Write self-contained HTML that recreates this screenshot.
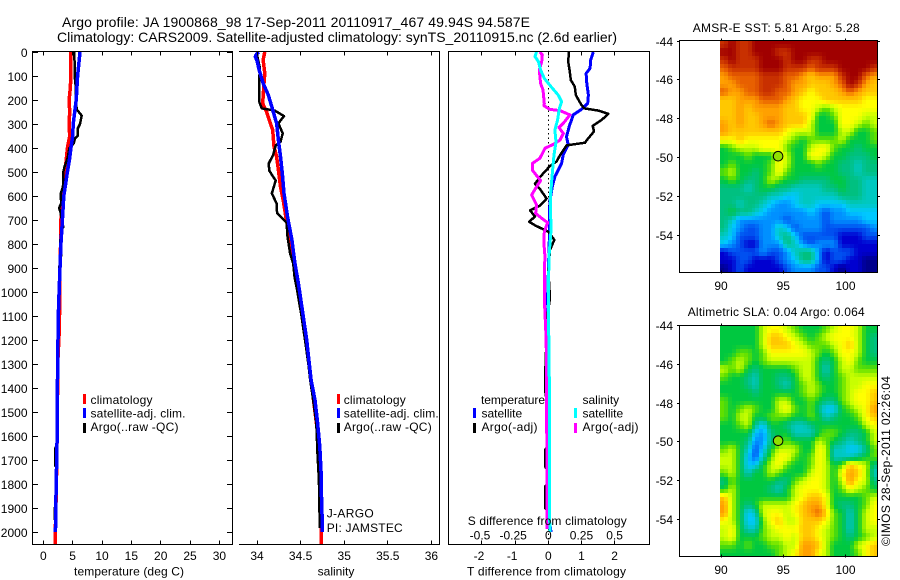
<!DOCTYPE html>
<html lang="en">
<head>
<meta charset="utf-8">
<title>Argo profile</title>
<style>
html,body{margin:0;padding:0;background:#fff;width:900px;height:580px;overflow:hidden}
svg{display:block}
text{font-family:"Liberation Sans",sans-serif;font-size:12px;fill:#000}
</style>
</head>
<body>
<svg id="fig" width="900" height="580" viewBox="0 0 900 580" xmlns="http://www.w3.org/2000/svg">
<rect width="900" height="580" fill="#fff"/>
<text x="62" y="27" style="font-size:14px" textLength="468">Argo profile: JA 1900868_98 17-Sep-2011 20110917_467 49.94S 94.587E</text>
<text x="57" y="42" style="font-size:14px" textLength="560">Climatology: CARS2009. Satellite-adjusted climatology: synTS_20110915.nc (2.6d earlier)</text>

<g id="layer-maps"></g>
<g id="layer-p1"></g>
<g id="layer-p2"></g>
<g id="layer-p3"></g>

<g>
<rect x="83" y="394" width="3" height="10" fill="#ff0000"/>
<rect x="83" y="408" width="3" height="10" fill="#0000ff"/>
<rect x="83" y="423" width="3" height="10" fill="#000"/>
<text x="90.5" y="404" textLength="62">climatology</text>
<text x="90.5" y="417.5" textLength="95">satellite-adj. clim.</text>
<text x="90.5" y="431" textLength="88">Argo(..raw -QC)</text>
</g>
<g>
<rect x="337" y="394" width="3" height="10" fill="#ff0000"/>
<rect x="337" y="408" width="3" height="10" fill="#0000ff"/>
<rect x="337" y="423" width="3" height="10" fill="#000"/>
<text x="343.7" y="404" textLength="62">climatology</text>
<text x="343.7" y="417.5" textLength="95">satellite-adj. clim.</text>
<text x="343.7" y="431" textLength="88">Argo(..raw -QC)</text>
<text x="326.7" y="517.5" textLength="47">J-ARGO</text>
<text x="326.7" y="532" textLength="76">PI: JAMSTEC</text>
</g>
<g>
<text x="481" y="404" textLength="64">temperature</text>
<rect x="473" y="408" width="3" height="10" fill="#0000ff"/>
<text x="481.5" y="417.5">satellite</text>
<rect x="473" y="423" width="3" height="10" fill="#000"/>
<text x="481.5" y="431" textLength="56">Argo(-adj)</text>
<text x="582.5" y="404">salinity</text>
<rect x="574" y="408" width="3" height="10" fill="#00ffff"/>
<text x="582.5" y="417.5">satellite</text>
<rect x="574" y="423" width="3" height="10" fill="#ff00ff"/>
<text x="582.5" y="431" textLength="56">Argo(-adj)</text>
<text x="467.7" y="525" textLength="159">S difference from climatology</text>
</g>

<text x="74" y="575.5" textLength="110">temperature (deg C)</text>
<text x="336" y="575.5" text-anchor="middle">salinity</text>
<text x="467" y="575.5" textLength="159">T difference from climatology</text>

<text x="692.7" y="32" textLength="167">AMSR-E SST: 5.81 Argo: 5.28</text>
<text x="687.7" y="316" textLength="177">Altimetric SLA: 0.04 Argo: 0.064</text>
<text transform="translate(890,546) rotate(-90)" textLength="170">©IMOS 28-Sep-2011 02:26:04</text>
</svg>

<script>
// ---- axis tick data ----
const depthTicks = [0,100,200,300,400,500,600,700,800,900,1000,1100,1200,1300,1400,1500,1600,1700,1800,1900,2000];
const tempTicks = [0,5,10,15,20,25,30];
const salTicks = [34,34.5,35,35.5,36];
const salTickLabels = ['34','34.5','35','35.5','36'];
const tDiffTicks = [-2,-1,0,1,2];
const sDiffTicks = [-0.5,-0.25,0,0.25,0.5];
const sDiffTickLabels = ['-0.5','-0.25','0','0.25','0.5'];
const lonTicks = [90,95,100];
const latTicks = [-44,-46,-48,-50,-52,-54];

// ---- temperature profile ----
const tempClimDepth = [0,100,150,200,250,300,350,400,450,500,600,700,800,900,1000,1150,1300,1500,1700,1900,2000,2050];
const tempClimValue = [4.7,4.7,4.6,4.4,4.5,4.4,4.5,4.1,3.9,3.7,3.25,3.0,2.95,2.85,2.8,2.75,2.45,2.4,2.3,2.15,2.05,2.05];
const tempSatDepth = [0,100,200,300,350,400,450,500,550,600,700,800,900,1000,1100,1200,1300,1400,1500,1600,1700,1725,1750,1900,1950,2000];
const tempSatValue = [6.25,5.85,5.6,5.1,5.0,4.7,4.45,4.1,3.8,3.5,3.25,3.0,2.85,2.7,2.55,2.5,2.45,2.4,2.4,2.35,2.3,2.3,2.2,2.15,2.15,2.05];
const tempArgoDepth = [0,100,140,200,240,265,300,320,350,360,380,390,400,440,480,500,550,570,590,630,650,670,700,730,740,800,840,900,1000,1200,1400,1640,1650,1725,1730,1890,1900,1950];
const tempArgoValue = [5.3,5.35,5.5,5.5,5.7,6.55,6.25,5.85,5.85,5.4,5.2,4.85,4.45,4.15,3.6,3.4,3.4,3.25,2.95,3.05,2.7,2.95,3.15,3.4,3.1,2.85,3.1,2.7,2.7,2.45,2.35,2.3,2.05,2.05,2.25,2.2,1.9,1.9];

// ---- salinity profile ----
const salClimDepth = [0,33,89,130,214,249,283,325,394,436,492,561,617,686,769,900,1000,1367,1645,1854,2050];
const salClimValue = [34.09,34.07,34.09,34.08,34.065,34.11,34.14,34.18,34.195,34.225,34.245,34.27,34.30,34.33,34.37,34.44,34.49,34.62,34.715,34.735,34.74];
const salSatDepth = [0,12,19,36,75,130,179,235,297,367,436,506,589,686,783,880,964,1026,1100,1200,1300,1367,1450,1546,1645,1754,1854,1979,2000];
const salSatValue = [34.02,33.99,33.98,34.0,34.025,34.07,34.13,34.175,34.225,34.245,34.27,34.29,34.31,34.35,34.40,34.435,34.475,34.5,34.53,34.57,34.60,34.62,34.665,34.695,34.72,34.735,34.74,34.75,34.75];
const salArgoDepth = [0,12,61,207,235,244,267,297,339,374,389,429,464,494,536,589,631,672,711,769,839,881,936,992,1100,1200,1300,1367,1450,1546,1685,1782,1983];
const salArgoValue = [34.015,34.0,34.03,34.025,34.055,34.205,34.31,34.245,34.295,34.27,34.215,34.185,34.135,34.14,34.215,34.17,34.225,34.23,34.34,34.35,34.38,34.415,34.43,34.46,34.51,34.55,34.59,34.61,34.645,34.68,34.695,34.71,34.72];

// ---- differences from climatology ----
const dtSatDepth = [0,33,68,89,131,179,214,239,262,311,353,387,429,464,519,561,617,686,783,922,1026,1200,1500,1800,1950,2000];
const dtSatValue = [1.36,1.28,1.26,1.14,1.16,1.21,1.19,1.0,.75,.63,.55,.60,.45,.40,.20,.12,.05,.03,.03,0,-.02,.01,.02,.03,.03,.08];
const dtArgoDepth = [0,40,82,117,144,179,221,235,244,258,283,308,331,367,378,389,431,456,475,521,549,571,611,640,660,686,707,722,749,783,825,908,1026,1100,1367,1408,1450,1650,1658,1728,1735,1805,1811,1901,1905,1985];
const dtArgoValue = [.62,.60,.65,.68,.80,.83,1.0,1.09,1.51,1.81,1.61,1.34,1.38,1.16,1.11,.55,.35,.25,.05,-.25,-.40,-.25,-.05,-.25,-.55,-.40,-.58,-.40,0,.18,.05,0,.05,-.03,-.10,-.10,-.05,-.05,-.10,-.10,-.05,-.05,-.10,-.10,-.05,-.05];
const dsSatDepth = [0,19,40,75,110,144,179,207,236,283,325,374,429,506,589,686,742,853,1026,1400,1900,2000];
const dsSatValue = [-.088,-.10,-.075,-.058,-.03,.02,.075,.10,.083,.07,.05,.058,.043,.03,.018,.018,.02,.005,0,.008,.008,.0125];
const dsArgoDepth = [0,12,40,75,131,158,214,224,239,244,262,297,314,339,367,385,401,443,464,494,536,568,596,637,672,693,711,749,797,853,908,1026,1200,1500,1987];
const dsArgoValue = [-.063,-.045,-.05,-.068,-.058,-.04,-.03,-.033,.013,.088,.163,.113,.08,.113,.088,.038,-.025,-.063,-.12,-.118,-.058,-.096,-.126,-.088,-.096,-.05,-.005,-.03,-.033,-.025,-.03,-.03,-.016,-.012,-.01];

// ---- map colour levels (0 = coldest/lowest ... 15 = warmest/highest) ----
const sstGrid = [
[14,15,14,14,15,15,15,15,15,15,15,15,15,15,15,15,15,15,15,15],
[15,15,14,14,15,15,15,14,14,15,15,15,15,15,15,15,15,15,15,15],
[14,15,14,14,14,15,15,15,14,15,15,14,14,15,15,15,15,15,15,15],
[13,14,14,14,14,15,15,15,14,14,14,13,14,14,14,15,15,15,15,14],
[12,13,13,13,13,14,14,14,13,13,12,11,12,12,12,14,15,15,13,12],
[12,12,13,13,13,14,14,14,13,12,12,11,11,11,12,13,15,14,12,11],
[13,12,12,13,13,14,14,13,13,12,11,10,11,11,11,12,13,12,11,11],
[11,11,12,12,12,13,13,13,12,11,10,10,10,11,11,11,11,11,10,10],
[11,11,12,11,12,12,12,12,11,11,10,10,9,8,9,10,10,10,10,10],
[11,11,12,11,11,12,12,12,11,11,11,10,7,7,8,10,10,10,9,9],
[12,11,12,11,11,12,13,12,11,11,11,9,7,7,7,10,10,9,8,9],
[12,11,11,11,11,11,11,11,10,9,9,9,7,7,7,9,9,7,7,8],
[10,10,11,10,10,10,10,10,9,8,7,8,8,8,8,9,7,7,7,8],
[7,8,9,9,9,10,10,10,8,7,7,9,10,10,8,7,7,6,7,7],
[7,7,7,8,7,7,7,10,9,7,7,10,10,9,7,7,6,6,6,7],
[7,8,7,7,7,7,8,10,9,7,7,7,8,7,7,6,6,5,6,6],
[8,9,7,7,6,7,8,10,8,7,7,7,7,7,7,6,6,5,6,6],
[7,8,7,6,6,7,9,8,7,7,6,6,6,6,7,7,6,6,5,5],
[6,6,6,5,6,7,7,6,6,5,5,5,5,6,6,7,6,6,5,5],
[6,6,6,6,6,6,5,5,4,4,5,5,5,5,5,6,6,6,5,5],
[6,6,5,6,6,5,4,3,3,4,5,5,4,4,4,4,5,5,5,5],
[6,7,6,6,5,4,3,3,3,3,3,4,3,2,3,3,4,4,4,4],
[6,5,3,3,3,3,3,3,2,3,3,3,3,2,3,3,3,3,4,4],
[6,4,3,2,2,3,3,5,4,2,3,3,3,2,2,2,2,2,2,3],
[5,4,2,2,2,3,3,5,6,4,2,2,2,2,2,1,1,1,2,2],
[4,3,2,1,1,3,3,3,6,5,3,2,3,3,3,1,1,1,1,1],
[1,2,2,2,2,3,2,2,3,5,6,6,3,1,2,2,2,1,1,1],
[1,1,2,2,1,1,1,2,3,4,6,6,3,1,2,2,1,1,0,0],
[0,1,2,1,1,1,1,1,2,3,3,3,2,2,1,0,1,1,0,0]
];
const slaGrid = [
[7,7,7,7,7,9,10,10,9,8,7,7,7,8,9,10,10,9,7,7],
[7,7,7,7,7,9,11,11,10,9,8,7,8,9,10,10,10,9,7,6],
[7,7,7,7,7,9,11,11,11,10,9,8,8,8,9,10,11,9,7,6],
[7,7,8,8,7,8,10,10,10,10,10,9,8,7,8,10,10,9,7,6],
[7,8,9,8,7,8,9,9,9,9,9,9,7,6,7,9,10,8,7,7],
[9,8,9,7,6,7,7,7,7,8,9,9,7,5,7,9,9,8,8,8],
[8,7,7,6,5,7,7,6,6,7,9,9,7,6,7,8,9,9,9,9],
[7,7,7,6,5,7,7,6,5,7,8,9,8,7,7,8,9,9,10,10],
[7,7,7,7,6,7,7,7,7,7,8,9,8,7,7,8,9,10,10,11],
[8,7,7,7,7,7,7,9,9,7,7,8,7,6,6,8,9,10,10,11],
[8,7,8,9,8,7,7,9,10,8,7,8,6,4,4,7,8,9,10,12],
[8,7,9,9,7,7,8,8,8,7,7,8,7,5,6,7,7,8,10,11],
[7,7,8,9,6,4,7,7,6,5,5,6,7,7,7,7,7,7,9,10],
[7,7,7,7,4,3,6,7,7,5,5,5,7,8,8,7,6,6,7,9],
[7,7,7,6,3,3,6,7,8,7,7,7,9,8,7,6,5,6,7,9],
[8,9,7,5,2,4,7,9,9,9,7,7,10,9,5,5,4,4,6,8],
[9,9,7,4,2,5,8,10,10,8,7,8,10,9,5,5,5,6,7,8],
[9,9,7,4,4,7,9,10,8,7,7,8,10,9,7,8,11,10,9,6],
[8,9,7,5,7,7,9,8,7,7,7,9,10,9,7,10,12,11,9,5],
[6,8,7,7,7,7,7,6,6,8,9,10,10,9,7,9,12,10,9,6],
[7,9,7,7,7,7,6,5,7,9,10,10,10,9,7,8,10,9,8,7],
[11,9,7,7,7,7,7,7,7,9,10,11,11,10,7,7,7,7,8,9],
[12,9,7,6,7,9,9,9,9,10,11,12,12,10,7,6,6,7,8,10],
[12,9,7,4,5,9,10,10,9,10,11,12,13,11,8,7,5,7,9,10],
[10,9,7,4,4,8,10,11,9,9,11,11,11,10,8,7,5,7,9,10],
[9,10,7,5,5,8,9,10,10,10,11,11,10,9,8,7,5,7,9,9],
[9,10,7,7,7,8,9,9,10,9,11,11,10,9,8,7,6,7,8,9],
[8,8,7,8,7,7,8,8,9,9,12,12,11,9,7,7,7,9,10,11],
[7,7,7,7,7,7,7,8,9,10,12,12,10,9,7,7,7,8,10,11]
];
const floatLon = 94.587;
const floatLat = -49.94;

// ---- scales ----
const NS = 'http://www.w3.org/2000/svg';
const colorRamp = [[0,0,140],[0,0,208],[0,80,240],[0,144,255],[0,200,255],[0,200,192],[0,192,128],[0,200,64],[96,224,0],[200,255,0],[255,255,0],[255,200,0],[255,160,0],[232,96,0],[200,48,0],[160,0,0]];
const yDepth = d => 52 + 0.24 * d;
const xTemp = t => 43.3 + 5.87 * t;
const xSal = s => 257 + 87.2 * (s - 34);
const xDT = t => 548.3 + 33.15 * t;
const xDS = s => 548.3 + 132.6 * s;
const xLon = lon => 721 + 12.45 * (lon - 90);
const yLatMap1 = lat => 41 + 19.4 * (-44 - lat);
const yLatMap2 = lat => 325.5 + 19.4 * (-44 - lat);

function levelColor(v) {
  const clamped = Math.max(0, Math.min(colorRamp.length - 1, v));
  const i = Math.min(colorRamp.length - 2, Math.floor(clamped));
  const f = clamped - i;
  const a = colorRamp[i], b = colorRamp[i + 1];
  return 'rgb(' + a.map((c, k) => Math.round(c + (b[k] - c) * f)).join(',') + ')';
}
function make(parent, tag, attrs, txt) {
  const el = document.createElementNS(NS, tag);
  for (const k in attrs) el.setAttribute(k, attrs[k]);
  if (txt !== undefined) el.textContent = txt;
  parent.appendChild(el);
  return el;
}
function hline(g, x1, x2, y, name) {
  const el = make(g, 'line', {x1: x1, x2: x2, y1: y, y2: y, stroke: '#000', 'stroke-width': 1, 'shape-rendering': 'crispEdges'});
  
  
}
function vline(g, x, y1, y2, name) {
  const el = make(g, 'line', {x1: x, x2: x, y1: y1, y2: y2, stroke: '#000', 'stroke-width': 1, 'shape-rendering': 'crispEdges'});
  
  
}
function label(g, x, y, anchor, str, name) {
  const el = make(g, 'text', {x: x, y: y, 'text-anchor': anchor}, str);
  
  
}
function series(g, depths, values, xFn, color, width, name) {
  const pts = depths.map((d, i) => xFn(values[i]).toFixed(1) + ',' + yDepth(d).toFixed(1)).join(' ');
  const el = make(g, 'polyline', {points: pts, fill: 'none', stroke: color, 'stroke-width': width, 'stroke-linejoin': 'round', 'shape-rendering': 'crispEdges'});
  
  
}

const top_ = 51.5, bot = 544.5;

// ---- panel 1: temperature ----
const p1 = document.getElementById('layer-p1');
series(p1, tempClimDepth, tempClimValue, xTemp, '#ff0000', 3.5, 'temperature-climatology-line');
series(p1, tempArgoDepth, tempArgoValue, xTemp, '#000', 2.5, 'temperature-argo-line');
series(p1, tempSatDepth, tempSatValue, xTemp, '#0000ff', 3.5, 'temperature-satellite-line');
hline(p1, 32, 233, top_, 'temperature-top-axis');
hline(p1, 32, 233, bot, 'temperature-bottom-axis');
vline(p1, 32.5, top_, bot, 'temperature-left-axis');
vline(p1, 232.5, top_, bot, 'temperature-right-axis');
depthTicks.forEach(d => {
  const y = Math.floor(yDepth(d)) + 0.5;
  hline(p1, 32, 38, y, 'depth-tick-left');
  hline(p1, 227, 233, y, 'depth-tick-right');
  label(p1, 27.5, y + 4.5, 'end', String(d), 'depth-tick-label');
});
tempTicks.forEach(t => {
  const x = Math.floor(xTemp(t)) + 0.5;
  vline(p1, x, top_, top_ + 4, 'temperature-tick-top');
  vline(p1, x, bot - 4, bot, 'temperature-tick-bottom');
  label(p1, xTemp(t), 560, 'middle', String(t), 'temperature-tick-label');
});

// ---- panel 2: salinity ----
const p2 = document.getElementById('layer-p2');
series(p2, salClimDepth, salClimValue, xSal, '#ff0000', 3.5, 'salinity-climatology-line');
series(p2, salArgoDepth, salArgoValue, xSal, '#000', 2.5, 'salinity-argo-line');
series(p2, salSatDepth, salSatValue, xSal, '#0000ff', 3.5, 'salinity-satellite-line');
hline(p2, 239, 440, top_, 'salinity-top-axis');
hline(p2, 239, 440, bot, 'salinity-bottom-axis');
vline(p2, 439.5, top_, bot, 'salinity-right-axis');
salTicks.forEach((s, i) => {
  const x = Math.floor(xSal(s)) + 0.5;
  vline(p2, x, top_, top_ + 4, 'salinity-tick-top');
  vline(p2, x, bot - 4, bot, 'salinity-tick-bottom');
  label(p2, xSal(s), 560, 'middle', salTickLabels[i], 'salinity-tick-label');
});

// ---- panel 3: differences ----
const p3 = document.getElementById('layer-p3');
const zero = make(p3, 'line', {x1: xDT(0), x2: xDT(0), y1: 52, y2: 545, stroke: '#000', 'stroke-width': 1, 'stroke-dasharray': '1.5 3', 'shape-rendering': 'crispEdges'});


series(p3, dtSatDepth, dtSatValue, xDT, '#0000ff', 3, 'difference-t-satellite-line');
series(p3, dtArgoDepth, dtArgoValue, xDT, '#000', 2.5, 'difference-t-argo-line');
series(p3, dsArgoDepth, dsArgoValue, xDS, '#ff00ff', 3, 'difference-s-argo-line');
series(p3, dsSatDepth, dsSatValue, xDS, '#00ffff', 3, 'difference-s-satellite-line');
hline(p3, 448, 650, top_, 'difference-top-axis');
hline(p3, 448, 650, bot, 'difference-bottom-axis');
vline(p3, 448.5, top_, bot, 'difference-left-axis');
vline(p3, 649.5, top_, bot, 'difference-right-axis');
tDiffTicks.forEach(t => {
  const x = Math.floor(xDT(t)) + 0.5;
  vline(p3, x, top_, top_ + 4, 'difference-tick-top');
  vline(p3, x, bot - 4, bot, 'difference-tick-bottom');
  label(p3, xDT(t) - (t < 0 ? 3 : 0), 560, 'middle', String(t), 'difference-t-tick-label');
});
sDiffTicks.forEach((s, i) => {
  label(p3, xDS(s) - (s < 0 ? 2 : 0), 539.5, 'middle', sDiffTickLabels[i], 'difference-s-tick-label');
});

// ---- maps ----
const gMaps = document.getElementById('layer-maps');
function sampleGrid(grid, fr, fc) {
  const nr = grid.length, nc = grid[0].length;
  const r = Math.max(0, Math.min(nr - 1, fr)), c = Math.max(0, Math.min(nc - 1, fc));
  const r0 = Math.floor(r), c0 = Math.floor(c);
  const r1 = Math.min(nr - 1, r0 + 1), c1 = Math.min(nc - 1, c0 + 1);
  const tr = r - r0, tc = c - c0;
  return (grid[r0][c0] * (1 - tc) + grid[r0][c1] * tc) * (1 - tr) + (grid[r1][c0] * (1 - tc) + grid[r1][c1] * tc) * tr;
}
function drawMap(grid, yLat, topY, botY, prefix, labelY) {
  const sub = 2;
  const rows = grid.length * sub, cols = grid[0].length * sub;
  const lonStart = 89.92, lonStep = 12.66 / cols;
  const latStart = -43.97, latStep = 11.96 / rows;
  for (let r = 0; r < rows; r++) {
    for (let c = 0; c < cols; c++) {
      const v = sampleGrid(grid, (r + 0.5) / sub - 0.5, (c + 0.5) / sub - 0.5);
      const x0 = Math.round(xLon(lonStart + c * lonStep));
      const x1 = Math.round(xLon(lonStart + (c + 1) * lonStep));
      const y0 = Math.round(yLat(latStart - r * latStep));
      const y1 = Math.round(yLat(latStart - (r + 1) * latStep));
      const cell = make(gMaps, 'rect', {x: x0, y: y0, width: x1 - x0, height: y1 - y0, fill: levelColor(v), 'shape-rendering': 'crispEdges'});
      
      
    }
  }
  hline(gMaps, 679, 878, topY, prefix + '-top-axis');
  hline(gMaps, 679, 878, botY, prefix + '-bottom-axis');
  vline(gMaps, 679.5, topY, botY, prefix + '-left-axis');
  vline(gMaps, 877.5, topY, botY, prefix + '-right-axis');
  lonTicks.forEach(lon => {
    const x = Math.floor(xLon(lon)) + 0.5;
    vline(gMaps, x, topY - 2, topY, prefix + '-lon-tick-top');
    vline(gMaps, x, botY - 2, botY + 1, prefix + '-lon-tick-bottom');
    label(gMaps, xLon(lon), labelY, 'middle', String(lon), prefix + '-lon-tick-label');
  });
  latTicks.forEach(lat => {
    const y = Math.floor(yLat(lat)) + 0.5;
    hline(gMaps, 677, 680, y, prefix + '-lat-tick-left');
    hline(gMaps, 877, 880, y, prefix + '-lat-tick-right');
    label(gMaps, 673, y + 4.5, 'end', String(lat), prefix + '-lat-tick-label');
  });
  const m = make(gMaps, 'circle', {cx: xLon(floatLon), cy: yLat(floatLat), r: 4.8, fill: '#90e000', stroke: '#000', 'stroke-width': 1});
  
  
}
drawMap(sstGrid, yLatMap1, 40.5, 272.5, 'sst-map', 290);
drawMap(slaGrid, yLatMap2, 325.5, 556.5, 'sla-map', 574);
</script>
</body>
</html>
